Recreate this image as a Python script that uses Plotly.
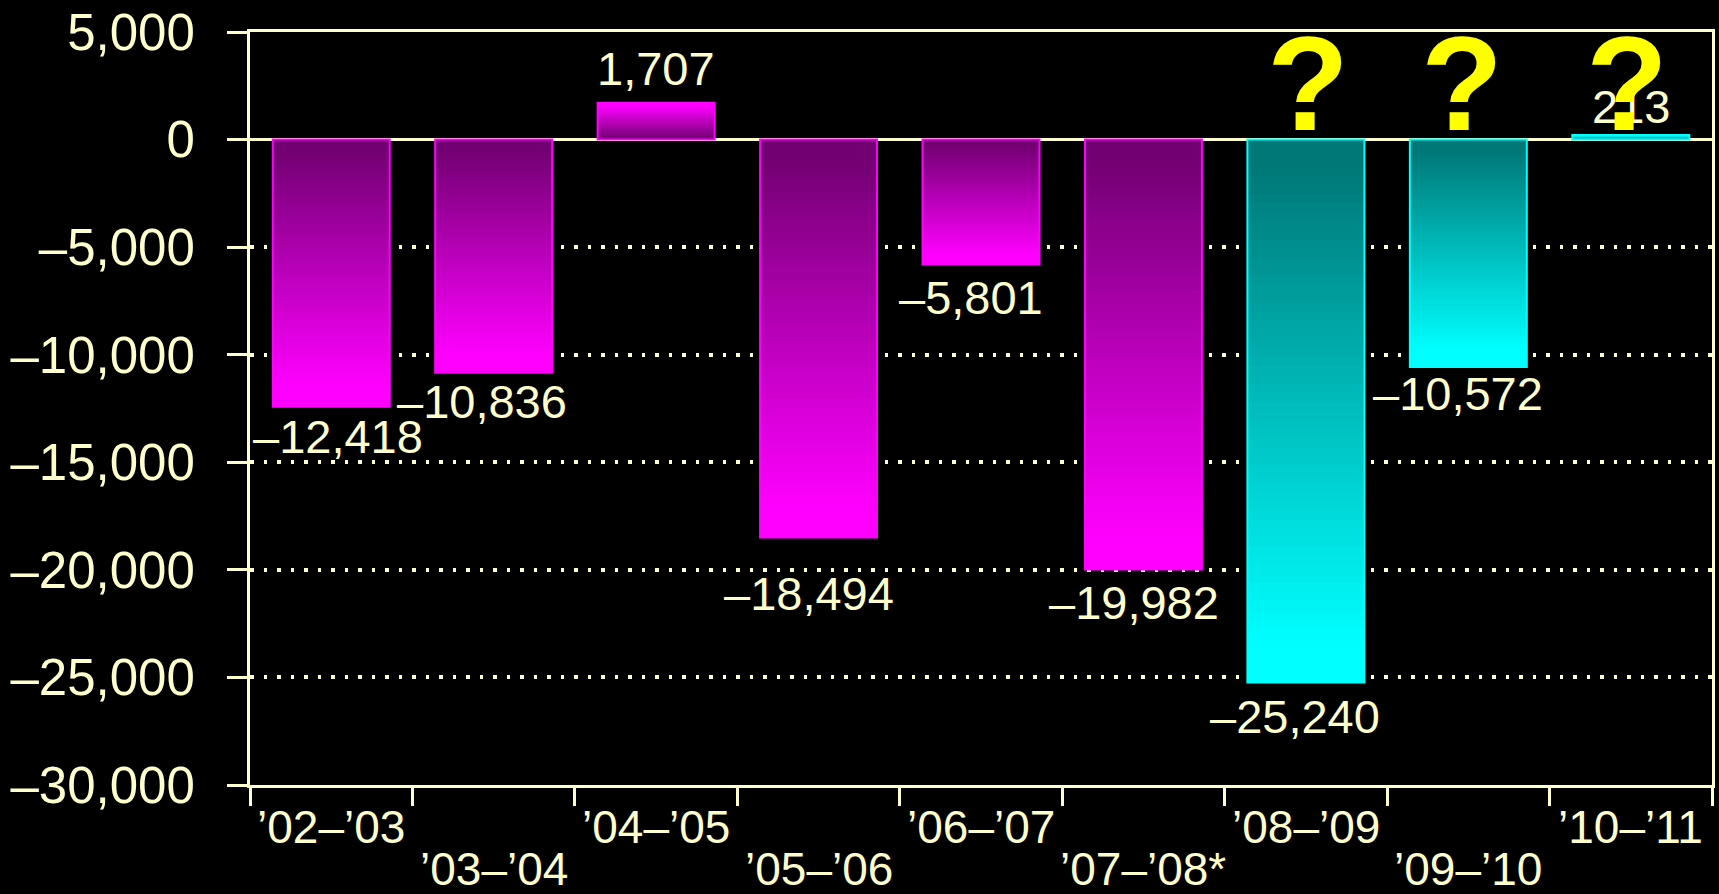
import plotly.graph_objects as go
import numpy as np

# ---------------- data ----------------
categories = ["'02-'03", "'03-'04", "'04-'05", "'05-'06", "'06-'07",
              "'07-'08*", "'08-'09", "'09-'10", "'10-'11"]
category_labels = ["\u201902\u2013\u201903", "\u201903\u2013\u201904", "\u201904\u2013\u201905",
                   "\u201905\u2013\u201906", "\u201906\u2013\u201907", "\u201907\u2013\u201908*",
                   "\u201908\u2013\u201909", "\u201909\u2013\u201910", "\u201910\u2013\u201911"]
values = [-12418, -10836, 1707, -18494, -5801, -19982, -25240, -10572, 213]
projected = [False, False, False, False, False, False, True, True, True]
question_marks = ["'08-'09", "'09-'10", "'10-'11"]
y_tick_vals = [5000, 0, -5000, -10000, -15000, -20000, -25000, -30000]
y_tick_text = ["5,000", "0", "\u20135,000", "\u201310,000", "\u201315,000",
               "\u201320,000", "\u201325,000", "\u201330,000"]

# ---------------- style ----------------
CREAM = "#FFFFCC"
FONT = "Liberation Sans, Arial, sans-serif"
MAG_DARK, MAG_BRIGHT = np.array([0x73, 0x00, 0x73]), np.array([0xFF, 0x00, 0xFF])
CYA_DARK, CYA_BRIGHT = np.array([0x00, 0x78, 0x78]), np.array([0x00, 0xFF, 0xFF])
label_shifts = [(7, -30), (-12, -29), (0, 34), (-10, -56), (-10, -33),
                (-9, -33), (-11, -34), (-10, -26), (0, 28)]
qm_shifts = [2, -6, -4]

def grad_color(t, proj):
    tt = min(max((t - 0.05) / 0.88, 0.0), 1.0)
    d, b = (CYA_DARK, CYA_BRIGHT) if proj else (MAG_DARK, MAG_BRIGHT)
    c = d + (b - d) * tt
    return "rgb(%d,%d,%d)" % tuple(int(round(v)) for v in c)

fig = go.Figure()
N = 60
vals = np.array(values, dtype=float)
for i in range(N):
    base = vals * i / N
    top = vals * min(i + 1.8, N) / N
    colors = [grad_color((i + 0.5) / N, p) for p in projected]
    fig.add_trace(go.Bar(
        x=categories, y=top - base, base=base,
        marker=dict(color=colors, line=dict(width=0)),
        hoverinfo="skip", showlegend=False,
    ))
# outline
fig.add_trace(go.Bar(
    x=categories, y=values,
    marker=dict(color="rgba(0,0,0,0)",
                line=dict(width=2, color=["#00FFFF" if p else "#FF00FF" for p in projected])),
    showlegend=False,
))

annotations = []
for c, v, (dx, dy) in zip(categories, values, label_shifts):
    annotations.append(dict(
        x=c, y=v, xref="x", yref="y", text=f"{v:,}".replace("-", "\u2013"),
        showarrow=False, yanchor="middle", xanchor="center",
        xshift=dx, yshift=dy, font=dict(family=FONT, size=47, color=CREAM)))
for k, (c, lab) in enumerate(zip(categories, category_labels)):
    annotations.append(dict(
        x=c, y=-0.0558 if k % 2 == 0 else -0.1116, xref="x", yref="paper",
        text=lab, showarrow=False, yanchor="middle", xanchor="center",
        font=dict(family=FONT, size=46, color=CREAM)))
for c, dx in zip(question_marks, qm_shifts):
    annotations.append(dict(
        x=c, y=2600, xref="x", yref="y", text="<b>?</b>", showarrow=False,
        yanchor="middle", xanchor="center", xshift=dx,
        font=dict(family=FONT, size=134, color="#FFFF00")))

fig.update_layout(
    width=1719, height=894,
    margin=dict(l=250, r=4, t=32, b=109),
    paper_bgcolor="black", plot_bgcolor="black",
    barmode="overlay", bargap=0.28,
    showlegend=False,
    annotations=annotations,
    font=dict(family=FONT, color=CREAM),
)
fig.update_xaxes(
    type="category", categoryorder="array", categoryarray=categories,
    range=[-0.5, len(categories) - 0.5],
    showticklabels=False, tickson="boundaries", ticks="outside",
    ticklen=18, tickwidth=3, tickcolor=CREAM,
    showline=True, linewidth=3, linecolor=CREAM, mirror=True,
    showgrid=False, zeroline=False,
)
fig.update_yaxes(
    range=[-30000, 5000], tickvals=y_tick_vals, ticktext=y_tick_text,
    ticks="outside", ticklen=20, tickwidth=3, tickcolor=CREAM,
    ticklabelstandoff=22,
    tickfont=dict(family=FONT, size=51, color=CREAM),
    showline=True, linewidth=3, linecolor=CREAM, mirror=True,
    showgrid=True, gridcolor=CREAM, gridwidth=3.5, griddash="3.5px,10px",
    zeroline=True, zerolinecolor=CREAM, zerolinewidth=3,
)

fig.write_html(
    "out.html",
    config={"displayModeBar": False},
    post_script="document.body.style.margin='0';document.body.style.background='black';",
)
